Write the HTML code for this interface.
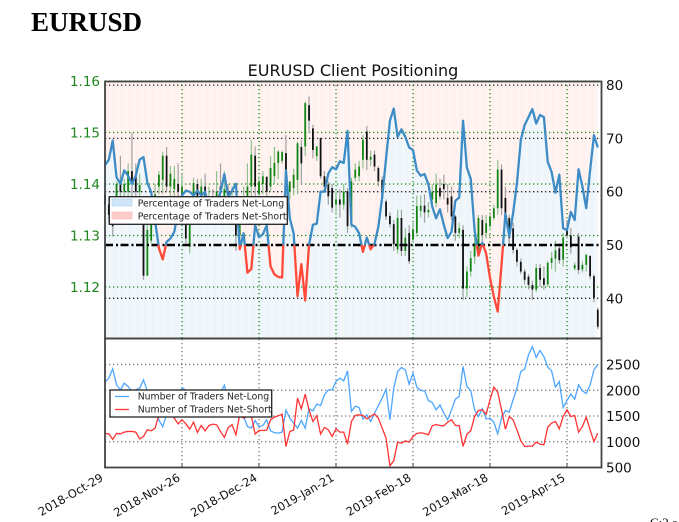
<!DOCTYPE html>
<html>
<head>
<meta charset="utf-8">
<title>EURUSD Client Positioning</title>
<style>
html,body{margin:0;padding:0;background:#fff;}
body{width:679px;height:522px;overflow:hidden;position:relative;}
svg{position:absolute;left:0;top:0;}
text{font-family:"DejaVu Sans","Liberation Sans",sans-serif;}
#candles,#pctLine,#counts,#grid{filter:blur(0.3px);}
</style>
</head>
<body>
<svg id="chart" width="679" height="522" viewBox="0 0 679 522">
<text x="31" y="31" style="font-family:'Liberation Serif',serif;font-weight:bold;font-size:27px" fill="#000">EURUSD</text>
<text x="353" y="76" text-anchor="middle" font-size="16" fill="#111">EURUSD Client Positioning</text>
<g id="areas"></g>
<g id="grid"></g>
<g id="candles"></g>
<line x1="105" x2="601" y1="245" y2="245" stroke="#000" stroke-width="2.4" stroke-dasharray="8 3 2 2.5"></line>
<g id="pctLine"></g>
<g id="counts"></g>
<g id="axes"></g>
<rect x="105" y="81.5" width="496.5" height="257" fill="none" stroke="#444" stroke-width="1.8"></rect>
<rect x="105" y="338.5" width="496.5" height="129" fill="none" stroke="#444" stroke-width="1.8"></rect>
<g>
<rect x="109.3" y="196.7" width="178" height="27.6" fill="#fff" stroke="#222" stroke-width="1.3"></rect>
<rect x="112" y="199" width="20" height="7" fill="#cfe5f8" stroke="#a9d0f0" stroke-width="0.6"></rect>
<text x="137.7" y="206.5" font-size="9.3" fill="#222">Percentage of Traders Net-Long</text>
<rect x="112" y="212" width="20" height="7" fill="#ffcccc" stroke="#ffb0b0" stroke-width="0.6"></rect>
<text x="137.7" y="219.5" font-size="9.3" fill="#222">Percentage of Traders Net-Short</text>
</g>
<g>
<rect x="110" y="390" width="161.7" height="27" fill="#fff" stroke="#222" stroke-width="1.3"></rect>
<line x1="115" x2="129" y1="396.5" y2="396.5" stroke="#4da6ff" stroke-width="1.3"></line>
<text x="137.7" y="399.5" font-size="9.3" fill="#222">Number of Traders Net-Long</text>
<line x1="115" x2="129" y1="409.5" y2="409.5" stroke="#ff3333" stroke-width="1.3"></line>
<text x="137.7" y="412.5" font-size="9.3" fill="#222">Number of Traders Net-Short</text>
</g>
<text x="650" y="527" style="font-family:'Liberation Serif',serif;font-size:13px" fill="#000">C:2 a</text>
</svg>
<script>
// Percentage of traders net-long, one value per trading day
const pctLong = [
65,66,69.6,62.7,61.5,64,63,61.5,63,66,
66.5,61.7,59.9,54.6,49.4,47.3,50.6,51.2,52.5,56.5,
59.3,60.2,60,59.3,60.2,59.3,60,57,56.5,57.7,
60,63.3,59,60.2,61.5,49.2,52.2,44.8,45.5,53.7,
51.5,52,53.7,46,44.5,44,43.9,64,55,52.2,
40.4,46.4,39.6,50,53.8,54,60,60,63.4,64.6,
64.2,65.7,65.4,71.4,53.8,53.4,52.2,48.7,51.4,49.2,
50.2,53.4,59,66.2,73.3,75.6,70.3,71.7,70.3,68.3,
67.8,64,63,63.3,61.4,57.2,55,56.7,53.8,51.3,
52.5,58.3,58.9,73.3,64.5,62.4,52.8,48,50.4,48.4,
43.8,40.3,37.5,46.3,55.9,51.6,56,61.6,69.7,72.5,
74,75.5,72.8,74.4,74,65.6,63.7,59.8,63.2,53.1,
52.8,56.2,54.7,64.2,61,56.9,64,70.6,68.3];
// Number of traders net-long
const netLong = [
2157,2235,2416,2105,2008,2138,2073,1976,2008,2040,
2202,1980,1880,1700,1420,1290,1530,1560,1620,1800,
2050,2000,1960,1900,1980,1900,1960,1800,1750,1800,
1950,2100,1800,1850,1950,1500,1490,1297,1264,1413,
1297,1316,1426,1212,1174,1167,1187,1614,1458,1361,
1264,1413,1264,1640,1600,1730,1704,1911,2008,2008,
2170,2235,2183,2377,1588,1691,1665,1439,1523,1394,
1555,1704,1847,2021,1426,2041,2364,2442,2396,2118,
2332,2060,1995,1989,1801,1762,1620,1717,1555,1426,
1620,1827,1879,2461,2073,1995,1620,1491,1640,1445,
1458,1381,1154,1458,1607,1575,1814,2041,2364,2409,
2688,2850,2636,2772,2655,2448,2377,2060,2170,1665,
1801,1924,1827,2105,1989,1937,2105,2396,2494];
// Number of traders net-short
const netShort = [
1161,1154,1044,1161,1154,1187,1200,1200,1187,1057,
1102,1232,1212,1264,1523,1750,1700,1600,1458,1348,
1426,1348,1245,1381,1180,1316,1212,1316,1342,1329,
1200,1083,1277,1329,1135,1523,1458,1500,1500,1148,
1219,1219,1225,1426,1478,1504,1536,908,1200,1225,
1847,1640,1924,1620,1394,1504,1148,1277,1232,1102,
1251,1187,1187,954,1394,1510,1523,1510,1445,1491,
1542,1458,1264,1070,533,630,992,973,1018,992,
1102,1161,1174,1161,1135,1310,1335,1316,1310,1381,
1426,1316,1316,908,1148,1212,1491,1607,1620,1536,
1814,2060,1963,1620,1245,1491,1426,1232,1018,908,
915,915,992,954,941,1284,1361,1394,1251,1491,
1620,1491,1510,1187,1297,1478,1232,1005,1167];
// Candle prices, in pips above 1.1000
const opensPips = [
380,360,345,375,400,385,385,425,420,385,
324,222,290,345,395,408,455,395,390,400,
375,322,278,375,400,380,395,365,375,365,
395,375,385,365,330,300,345,375,395,455,
380,400,414,395,415,441,445,460,385,392,
408,472,473,553,508,454,489,415,399,392,
360,370,360,386,325,412,415,447,502,447,
457,431,408,366,338,322,273,334,270,305,
292,305,348,358,345,370,363,392,400,373,
376,337,305,311,197,230,259,266,330,305,
318,334,353,428,373,334,314,272,249,230,
220,204,195,237,217,205,247,255,275,253,
310,300,236,298,234,243,260,221,156];
const closesPips = [
360,340,318,400,385,400,425,400,385,398,
222,311,345,380,418,455,395,420,410,385,
395,294,323,402,375,395,375,375,360,385,
385,390,375,375,300,330,365,395,457,395,
405,415,385,431,441,463,462,412,405,418,
479,440,557,523,466,473,415,395,376,354,
370,360,385,318,405,428,434,486,447,453,
434,405,373,337,322,283,334,270,296,250,
312,357,358,345,350,385,399,376,390,360,
337,305,314,197,230,256,285,334,301,324,
337,353,428,353,334,295,272,249,230,214,
204,195,237,214,204,247,256,271,252,296,
300,277,243,233,243,262,221,178,123];
const highsPips = [
385,375,360,405,455,410,440,500,440,420,
330,330,360,400,425,463,472,435,435,440,
420,345,335,412,410,410,420,395,390,425,
440,425,400,395,370,345,395,440,486,473,
415,425,415,454,472,465,465,495,405,430,
482,485,560,570,515,473,490,425,405,400,
385,390,400,392,412,440,445,495,513,465,
465,435,415,370,345,330,350,350,315,320,
325,378,378,380,365,400,420,410,418,400,
395,340,325,320,240,270,300,340,340,340,
345,360,447,438,395,340,325,275,255,235,
225,212,245,245,240,250,268,290,285,305,
330,315,248,305,250,265,262,225,160];
const lowsPips = [
345,325,298,320,370,365,375,365,360,370,
214,222,285,330,380,380,385,370,375,355,
360,285,265,360,355,365,340,335,345,345,
365,350,345,335,270,285,330,350,370,370,
365,380,370,385,400,410,440,375,370,378,
380,400,455,500,450,445,410,385,360,345,
340,335,350,305,315,405,405,430,427,435,
425,395,365,330,315,270,265,260,260,245,
285,298,335,325,335,355,355,370,370,345,
330,290,295,175,181,220,245,260,285,295,
310,330,340,340,325,280,265,240,225,205,
195,175,190,200,195,200,235,230,245,240,
295,265,232,225,228,230,215,170,118];
// Axis tick values and labels
const dateTickIndex = [0,20,40,60,80,100,120];
const dateTickLabels = ['2018-Oct-29','2018-Nov-26','2018-Dec-24','2019-Jan-21','2019-Feb-18','2019-Mar-18','2019-Apr-15'];
const priceTicks = [1.16,1.15,1.14,1.13,1.12];
const pctTicks = [80,70,60,40];
const pctTickLabels = [80,70,60,50,40];
const countTicks = [2500,2000,1500,1000,500];

const NS = 'http://www.w3.org/2000/svg';
const xDay = i => 105 + 3.85 * i;
const yPct = v => 245 - (v - 50) * 5.33;
const yPrice = p => 287 - (p - 1.12) * 5150;
const yCount = v => 467.5 - (v - 500) * 0.0515;
const pipsToPrice = v => 1.1 + v / 10000;

function mk(tag, attrs, parent) {
  const el = document.createElementNS(NS, tag);
  for (const k in attrs) el.setAttribute(k, attrs[k]);
  parent.appendChild(el);
  return el;
}
const gAreas = document.getElementById('areas');
const gGrid = document.getElementById('grid');
const gCandles = document.getElementById('candles');
const gPct = document.getElementById('pctLine');
const gCounts = document.getElementById('counts');
const gAxes = document.getElementById('axes');

// area fill
for (let i = 0; i < pctLong.length - 1; i++) {
  const x0 = xDay(i), x1 = xDay(i + 1), y0 = yPct(pctLong[i]), y1 = yPct(pctLong[i + 1]);
  const op = i % 2 ? 0.065 : 0.09;
  const lower = mk('polygon', {points: `${x0},${y0} ${x1},${y1} ${x1},338 ${x0},338`, fill: '#3a8cc4', 'fill-opacity': op}, gAreas);
  
  
  const upper = mk('polygon', {points: `${x0},${y0} ${x1},${y1} ${x1},81 ${x0},81`, fill: '#ff5a3c', 'fill-opacity': op}, gAreas);
  
  
}

// grid
const dots = {'stroke-dasharray': '1.3 2.7', 'stroke-width': 1.3};
priceTicks.forEach(p => {
  const l = mk('line', Object.assign({x1: 105, x2: 601, y1: yPrice(p), y2: yPrice(p), stroke: '#1f8f1f'}, dots), gGrid);
  
  
});
pctTicks.forEach(v => {
  const l = mk('line', Object.assign({x1: 105, x2: 601, y1: yPct(v), y2: yPct(v), stroke: '#222'}, dots), gGrid);
  
  
});
dateTickIndex.slice(1).forEach(i => {
  const l = mk('line', Object.assign({x1: xDay(i), x2: xDay(i), y1: 81, y2: 338, stroke: '#1f8f1f'}, dots), gGrid);
  
  
  const b = mk('line', Object.assign({x1: xDay(i), x2: xDay(i), y1: 339, y2: 467, stroke: '#777'}, dots), gGrid);
  
  
});
countTicks.slice(0, 4).forEach(v => {
  const l = mk('line', Object.assign({x1: 105, x2: 601, y1: yCount(v), y2: yCount(v), stroke: '#777'}, dots), gGrid);
  
  
});

// candles
opensPips.forEach((o, i) => {
  const c = closesPips[i];
  const up = c >= o;
  const x = xDay(i);
  const wick = mk('line', {x1: x, x2: x, y1: yPrice(pipsToPrice(highsPips[i])), y2: yPrice(pipsToPrice(lowsPips[i])), stroke: up ? '#8fc08f' : '#a0a0a0', 'stroke-width': 1.2}, gCandles);
  
  
  const top = yPrice(pipsToPrice(Math.max(o, c)));
  const bot = yPrice(pipsToPrice(Math.min(o, c)));
  const body = mk('rect', {x: x - 0.9, y: top, width: 1.8, height: Math.max(bot - top, 0.8), fill: up ? '#118411' : '#111'}, gCandles);
  
  
});

// percentage line, split at the 50 level
let run = [];
let runAbove = pctLong[0] >= 50;
function flushRun() {
  if (run.length < 2) return;
  const p = mk('polyline', {points: run.map(q => q.join(',')).join(' '), fill: 'none', stroke: runAbove ? '#3d8cc6' : '#ff4a3a', 'stroke-width': 2.3, 'stroke-linejoin': 'round'}, gPct);
  
  
}
pctLong.forEach((v, i) => {
  const above = v >= 50;
  if (i > 0 && above !== runAbove) {
    const prev = pctLong[i - 1];
    const t = (50 - prev) / (v - prev);
    const cross = [xDay(i - 1 + t), yPct(50)];
    run.push(cross);
    flushRun();
    run = [cross];
    runAbove = above;
  }
  run.push([xDay(i), yPct(v)]);
});
flushRun();

// trader count lines
const longLine = mk('polyline', {points: netLong.map((v, i) => xDay(i) + ',' + yCount(v)).join(' '), fill: 'none', stroke: '#4da6ff', 'stroke-width': 1.3}, gCounts);


const shortLine = mk('polyline', {points: netShort.map((v, i) => xDay(i) + ',' + yCount(v)).join(' '), fill: 'none', stroke: '#ff3333', 'stroke-width': 1.3}, gCounts);



// axis labels
function label(txt, x, y, anchor, fill, size) {
  const t = mk('text', {x: x, y: y, 'text-anchor': anchor, fill: fill, 'font-size': size}, gAxes);
  t.textContent = txt;
  return t;
}
priceTicks.forEach(p => {
  const t = label(p.toFixed(2), 100, yPrice(p) + 5, 'end', '#1d861d', 13.5);
  
  
});
pctTickLabels.forEach(v => {
  const t = label(String(v), 606, yPct(v) + 5, 'start', '#111', 13.5);
  
  
});
countTicks.forEach(v => {
  const t = label(String(v), 606, yCount(v) + 5, 'start', '#111', 13.5);
  
  
});
dateTickIndex.forEach((i, k) => {
  const x = xDay(i);
  const t = label(dateTickLabels[k], x - 1, 480, 'end', '#111', 11.5);
  t.setAttribute('transform', `rotate(-30 ${x - 1} 480)`);
  
  
  const tick = mk('line', {x1: x, x2: x, y1: 467, y2: 463, stroke: '#444', 'stroke-width': 1}, gAxes);
  
  
});
</script>
</body>
</html>
